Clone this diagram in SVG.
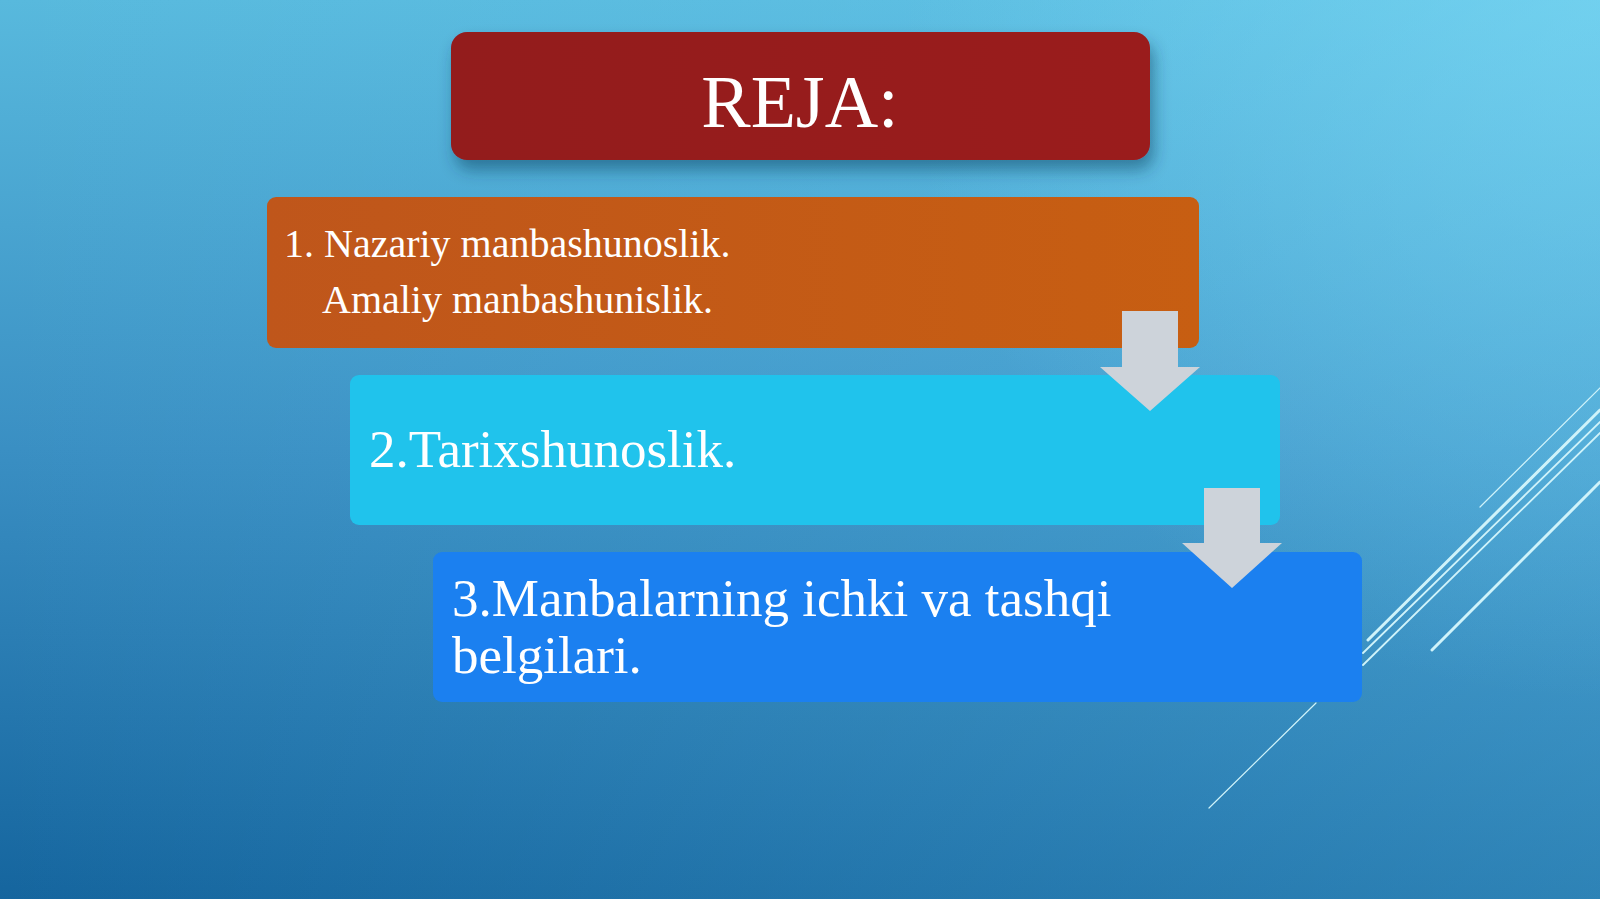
<svg xmlns="http://www.w3.org/2000/svg" width="1600" height="899" viewBox="0 0 1600 899">
<defs>
<linearGradient id="bgv" x1="0" y1="0" x2="0" y2="1">
<stop offset="0" stop-color="#58B9DD"/>
<stop offset="0.5" stop-color="#3A8FC3"/>
<stop offset="1" stop-color="#15659E"/>
</linearGradient>
<linearGradient id="bgh" x1="0" y1="0" x2="1" y2="0">
<stop offset="0" stop-color="#78DCFF" stop-opacity="0"/>
<stop offset="1" stop-color="#78DCFF" stop-opacity="0.25"/>
</linearGradient>
<radialGradient id="glow" cx="1600" cy="0" r="700" gradientUnits="userSpaceOnUse">
<stop offset="0" stop-color="#7FDCF6" stop-opacity="0.55"/>
<stop offset="1" stop-color="#7FDCF6" stop-opacity="0"/>
</radialGradient>
<linearGradient id="red" x1="0" y1="0" x2="1" y2="0">
<stop offset="0" stop-color="#931A1E"/>
<stop offset="1" stop-color="#9A1C1F"/>
</linearGradient>
<linearGradient id="orange" x1="0" y1="0" x2="1" y2="0">
<stop offset="0" stop-color="#BF561B"/>
<stop offset="1" stop-color="#C75E12"/>
</linearGradient>
<filter id="sh" x="-10%" y="-20%" width="120%" height="160%">
<feDropShadow dx="4" dy="10" stdDeviation="8" flood-color="#0B3550" flood-opacity="0.45"/>
</filter>
</defs>
<style>
.t{font-family:"Liberation Serif","Times New Roman",serif;fill:#FFFFFF}
.arrow{fill:#CDD3DA}
.ln{stroke:#CFF3FA;stroke-linecap:round;fill:none}
</style>
<rect width="1600" height="899" fill="url(#bgv)"/>
<rect width="1600" height="899" fill="url(#bgh)"/>
<rect width="1600" height="899" fill="url(#glow)"/>
<g id="decor-lines">
<line class="ln" x1="1480" y1="507" x2="1600" y2="388" stroke-width="1.2"/>
<line class="ln" x1="1368" y1="640" x2="1600" y2="410" stroke-width="3"/>
<line class="ln" x1="1363" y1="653" x2="1600" y2="422" stroke-width="1.8"/>
<line class="ln" x1="1363" y1="665" x2="1600" y2="433" stroke-width="1.8"/>
<line class="ln" x1="1432" y1="650" x2="1600" y2="482" stroke-width="3"/>
<line class="ln" x1="1209" y1="808" x2="1316" y2="703" stroke-width="1.2"/>
</g>
<g id="title">
<rect x="451" y="32" width="699" height="128" rx="16" fill="url(#red)" filter="url(#sh)"/>
<text class="t" x="800" y="127" font-size="74" text-anchor="middle">REJA:</text>
</g>
<g id="item1">
<rect x="267" y="197" width="932" height="151" rx="9" fill="url(#orange)"/>
<text class="t" x="284" y="257" font-size="40">1. Nazariy manbashunoslik.</text>
<text class="t" x="322" y="313" font-size="40">Amaliy manbashunislik.</text>
</g>
<g id="item2">
<rect x="350" y="375" width="930" height="150" rx="9" fill="#20C3EC"/>
<text class="t" x="369" y="467" font-size="53">2.Tarixshunoslik.</text>
</g>
<g id="item3">
<rect x="433" y="552" width="929" height="150" rx="9" fill="#1B80F0"/>
<text class="t" x="452" y="616" font-size="53">3.Manbalarning ichki va tashqi</text>
<text class="t" x="452" y="673" font-size="53">belgilari.</text>
</g>
<g id="connectors">
<polygon class="arrow" points="1122,311 1178,311 1178,367 1200,367 1150,411 1100,367 1122,367"/>
<polygon class="arrow" points="1204,488 1260,488 1260,543 1282,543 1232,588 1182,543 1204,543"/>
</g>
</svg>
